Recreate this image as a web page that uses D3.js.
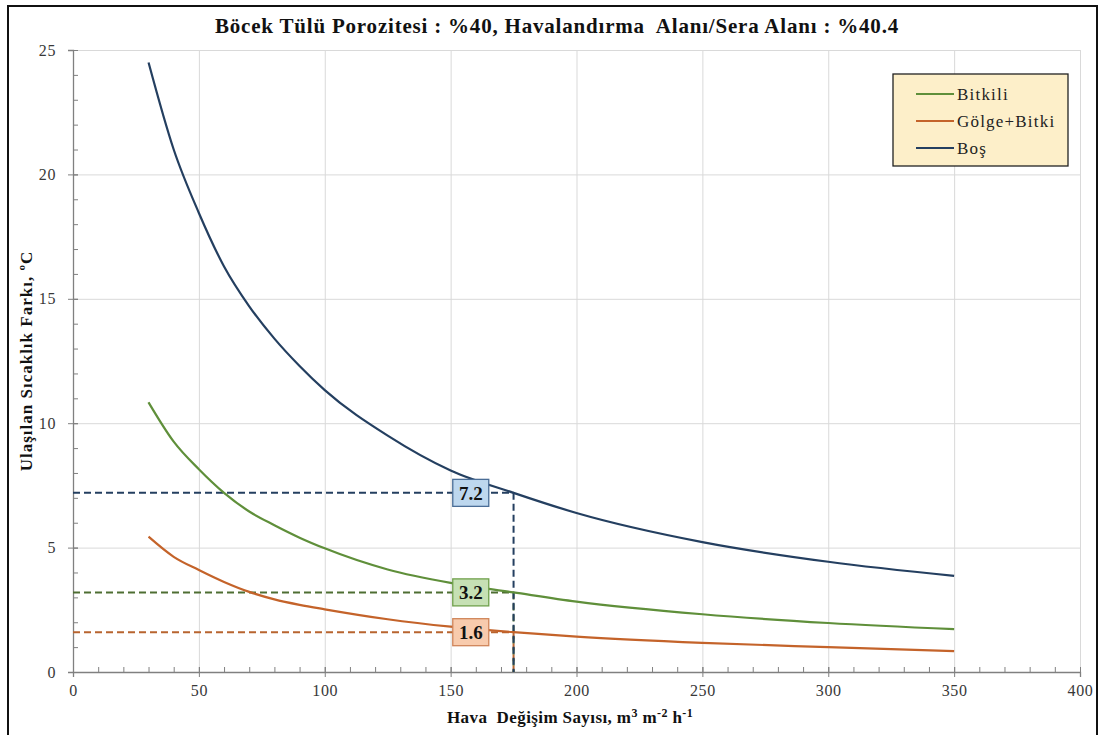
<!DOCTYPE html>
<html>
<head>
<meta charset="utf-8">
<script src="https://cdn.jsdelivr.net/npm/d3@7"></script>
</head>
<body style="margin:0; background:#fff">
<div id="chart"></div>
<script>
// Hava değişim sayısı (x) ve ulaşılan sıcaklık farkı (y)
const airChange = [30, 40, 50, 60, 70, 80, 90, 100, 125, 150, 175, 200, 250, 300, 350];
const bos = [24.5, 21.0, 18.45, 16.3, 14.7, 13.4, 12.3, 11.33, 9.5, 8.1, 7.2, 6.39, 5.22, 4.43, 3.86];
const bitkili = [10.84, 9.26, 8.15, 7.2, 6.45, 5.9, 5.4, 4.97, 4.12, 3.58, 3.2, 2.83, 2.32, 1.97, 1.72];
const golgeBitki = [5.44, 4.63, 4.1, 3.62, 3.22, 2.92, 2.7, 2.52, 2.12, 1.82, 1.6, 1.42, 1.17, 1.0, 0.84];

const seriesNames = ["Bitkili", "Gölge+Bitki", "Boş"];

const xTicks = [0, 50, 100, 150, 200, 250, 300, 350, 400];
const yTicks = [0, 5, 10, 15, 20, 25];

// okunan değerler x = 175 için
const refX = 175;
const refValues = [7.2, 3.2, 1.6];
const refLabelX = 158;

const FONT = "Liberation Serif";

const width = 1099, height = 735;
const margin = { top: 50, right: 19, bottom: 63, left: 73 };

const svg = d3.select("#chart").append("svg")
  .attr("width", width)
  .attr("height", height);

const x = d3.scaleLinear().domain([0, 400]).range([margin.left, width - margin.right]);
const y = d3.scaleLinear().domain([0, 25]).range([height - margin.bottom, margin.top]);

const colors = { "Bitkili": "#5f8f3a", "Gölge+Bitki": "#c4632a", "Boş": "#243f60" };
const dashColors = ["#243f60", "#4e6e33", "#b8642f"];
const boxFill = ["#bdd7ee", "#c6e0b4", "#f8cbad"];
const boxStroke = ["#4a6d96", "#70a04c", "#d0855a"];

// çerçeve
svg.append("rect")
  .attr("x", 8).attr("y", 6)
  .attr("width", 1089).attr("height", 740)
  .attr("fill", "none")
  .attr("stroke", "#111")
  .attr("stroke-width", 2);

// ızgara
svg.append("g")
  .attr("transform", `translate(0,${y(0)})`)
  .call(d3.axisBottom(x).tickValues(xTicks.slice(1)).tickSize(-(y(0) - y(25))).tickFormat(""))
  .call(g => g.select(".domain").remove())
  .call(g => g.selectAll("line").attr("stroke", "#d9d9d9"));

svg.append("g")
  .attr("transform", `translate(${x(0)},0)`)
  .call(d3.axisLeft(y).tickValues(yTicks.slice(1)).tickSize(-(x(400) - x(0))).tickFormat(""))
  .call(g => g.select(".domain").remove())
  .call(g => g.selectAll("line").attr("stroke", "#d9d9d9"));

// küçük tikler
svg.append("g")
  .attr("transform", `translate(0,${y(0)})`)
  .call(d3.axisBottom(x).tickValues(d3.range(0, 401, 10)).tickSize(-5).tickFormat(""))
  .call(g => g.select(".domain").remove())
  .call(g => g.selectAll("line").attr("stroke", "#808080"));

svg.append("g")
  .attr("transform", `translate(${x(0)},0)`)
  .call(d3.axisLeft(y).tickValues(d3.range(0, 26, 1)).tickSize(-5).tickFormat(""))
  .call(g => g.select(".domain").remove())
  .call(g => g.selectAll("line").attr("stroke", "#808080"));

// eksenler
const xAxis = svg.append("g")
  .attr("transform", `translate(0,${y(0)})`)
  .call(d3.axisBottom(x).tickValues(xTicks).tickSize(5).tickPadding(8).tickFormat(d3.format("d")))
  .attr("font-size", 16);
xAxis.select(".domain").attr("stroke", "#808080").attr("stroke-width", 1.3);
xAxis.selectAll("line").attr("stroke", "#808080").attr("y1", -5);
xAxis.selectAll("text").attr("fill", "#383838").attr("letter-spacing", 0.6);

const yAxis = svg.append("g")
  .attr("transform", `translate(${x(0)},0)`)
  .call(d3.axisLeft(y).tickValues(yTicks).tickSize(5).tickPadding(12).tickFormat(d3.format("d")))
  .attr("font-size", 16);
yAxis.select(".domain").attr("stroke", "#808080").attr("stroke-width", 1.3);
yAxis.selectAll("line").attr("stroke", "#808080").attr("x1", 5);
yAxis.selectAll("text").attr("fill", "#383838").attr("letter-spacing", 0.6);

// referans kesikli çizgiler
refValues.forEach((v, i) => {
  svg.append("line")
    .attr("x1", x(0)).attr("x2", x(refX))
    .attr("y1", y(v)).attr("y2", y(v))
    .attr("stroke", dashColors[i])
    .attr("stroke-width", 2)
    .attr("stroke-dasharray", "7,4");
});
refValues.slice().reverse().forEach((v, j) => {
  const i = refValues.length - 1 - j;
  svg.append("line")
    .attr("x1", x(refX)).attr("x2", x(refX))
    .attr("y1", y(v)).attr("y2", y(0))
    .attr("stroke", dashColors[i])
    .attr("stroke-width", 2)
    .attr("stroke-dasharray", "7,4");
});

// seriler
const seriesData = [
  { name: "Bitkili", values: bitkili },
  { name: "Gölge+Bitki", values: golgeBitki },
  { name: "Boş", values: bos }
];

const line = d3.line()
  .x((d, i) => x(airChange[i]))
  .y(d => y(d))
  .curve(d3.curveMonotoneX);

svg.selectAll(".series")
  .data(seriesData)
  .join("path")
  .attr("class", "series")
  .attr("fill", "none")
  .attr("stroke", d => colors[d.name])
  .attr("stroke-width", 2.2)
  .attr("d", d => line(d.values));

// değer kutuları
refValues.forEach((v, i) => {
  const g = svg.append("g").attr("transform", `translate(${x(refLabelX)},${y(v)})`);
  g.append("rect")
    .attr("x", -18).attr("y", -13.5)
    .attr("width", 36).attr("height", 27)
    .attr("fill", boxFill[i])
    .attr("stroke", boxStroke[i])
    .attr("stroke-width", 1.3);
  g.append("text")
    .attr("text-anchor", "middle")
    .attr("dy", "0.35em")
    .attr("font-size", 19)
    .attr("font-weight", "bold")
    .attr("fill", "#111")
    .text(v.toFixed(1));
});

// başlık
svg.append("text")
  .attr("x", 557).attr("y", 33)
  .attr("text-anchor", "middle")
  .attr("font-size", 21)
  .attr("letter-spacing", 0.8)
  .attr("font-weight", "bold")
  .attr("fill", "#111")
  .style("white-space", "pre")
  .text("Böcek Tülü Porozitesi : %40, Havalandırma  Alanı/Sera Alanı : %40.4");

// eksen başlıkları
const xTitle = svg.append("text")
  .attr("x", 447).attr("y", 723)
  .attr("font-size", 17)
  .attr("letter-spacing", 0.4)
  .attr("font-weight", "bold")
  .attr("fill", "#111")
  .style("white-space", "pre");
xTitle.append("tspan").text("Hava  Değişim Sayısı, m");
xTitle.append("tspan").attr("font-size", 12).attr("dy", -6).text("3");
xTitle.append("tspan").attr("dy", 6).text(" m");
xTitle.append("tspan").attr("font-size", 12).attr("dy", -6).text("-2");
xTitle.append("tspan").attr("dy", 6).text(" h");
xTitle.append("tspan").attr("font-size", 12).attr("dy", -6).text("-1");

svg.append("text")
  .attr("transform", `translate(32,${(y(0) + y(25)) / 2}) rotate(-90)`)
  .attr("text-anchor", "middle")
  .attr("font-size", 17)
  .attr("letter-spacing", 1)
  .attr("font-weight", "bold")
  .attr("fill", "#111")
  .text("Ulaşılan Sıcaklık Farkı, ºC");

// lejant
const legend = svg.append("g").attr("transform", "translate(893,74)");
legend.append("rect")
  .attr("width", 175).attr("height", 92)
  .attr("fill", "#fdefc9")
  .attr("stroke", "#222")
  .attr("stroke-width", 1.3);

seriesNames.forEach((name, i) => {
  const row = legend.append("g").attr("transform", `translate(0,${20 + i * 27})`);
  row.append("line")
    .attr("x1", 23).attr("x2", 61)
    .attr("stroke", colors[name])
    .attr("stroke-width", 2.2);
  row.append("text")
    .attr("x", 64).attr("dy", "0.35em")
    .attr("font-size", 17)
    .attr("letter-spacing", 1.2)
    .attr("fill", "#222")
    .text(name);
});

// tüm yazılar Times benzeri yazı tipinde
svg.selectAll("text").attr("font-family", FONT);
</script>
</body>
</html>
